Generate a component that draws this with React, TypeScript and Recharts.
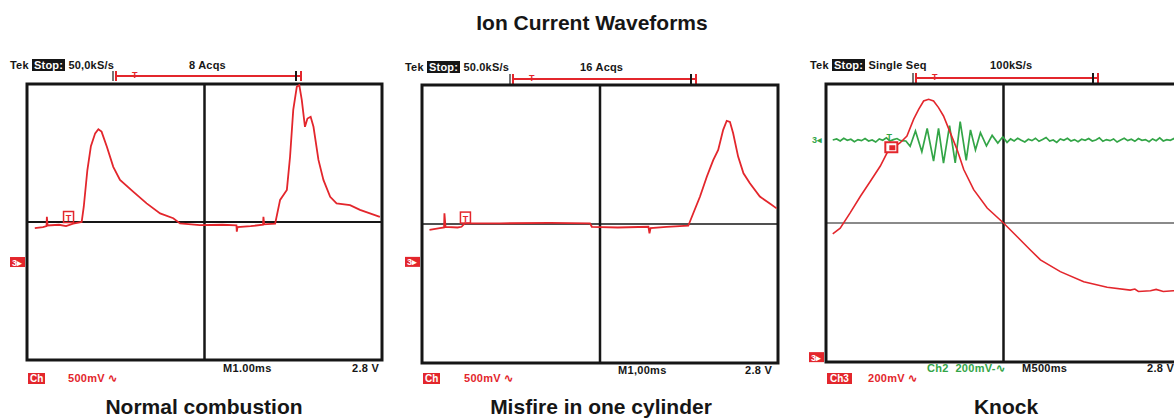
import {
  Line,
  LineChart,
  ReferenceArea,
  ReferenceDot,
  ReferenceLine,
  XAxis,
  YAxis,
} from "recharts";

// time in screen divisions (0-10), signal in vertical divisions (-4..4)
type Pt = [number, number];

const normalCombustion: Pt[] = [
  [0.22, -0.18], [0.45, -0.15], [0.55, -0.12], [0.56, 0.15], [0.58, -0.1],
  [0.9, -0.08], [1.1, -0.12], [1.3, -0.05], [1.54, 0.0], [1.6, 0.45],
  [1.7, 1.5], [1.8, 2.2], [1.92, 2.57], [2.01, 2.69], [2.1, 2.62], [2.25, 2.18],
  [2.43, 1.6], [2.62, 1.22], [2.99, 0.88], [3.37, 0.54], [3.75, 0.25],
  [4.12, 0.11], [4.31, -0.04], [4.87, -0.09], [5.5, -0.08], [5.9, -0.1],
  [5.91, -0.28], [5.93, -0.15], [6.3, -0.12], [6.65, -0.08], [6.66, 0.15],
  [6.68, -0.07], [6.99, -0.05], [7.13, 0.64], [7.32, 0.93], [7.41, 1.89],
  [7.5, 3.25], [7.6, 3.92], [7.67, 3.97], [7.74, 3.54], [7.83, 2.76],
  [7.9, 3.0], [7.99, 3.05], [8.07, 2.76], [8.21, 1.8], [8.35, 1.22],
  [8.54, 0.73], [8.72, 0.54], [9.1, 0.49], [9.38, 0.35], [9.66, 0.25],
  [9.94, 0.15],
];

const misfireOneCylinder: Pt[] = [
  [0.21, -0.17], [0.5, -0.12], [0.62, -0.1], [0.63, 0.31], [0.66, -0.08],
  [1.0, -0.1], [1.11, -0.08], [1.2, 0.02], [2.19, 0.02], [3.6, 0.03],
  [4.72, 0.02], [4.77, -0.08], [5.5, -0.1], [6.36, -0.08], [6.39, -0.27],
  [6.42, -0.12], [6.87, -0.08], [7.48, -0.05], [7.62, 0.31], [7.81, 0.79],
  [8.0, 1.36], [8.18, 1.84], [8.32, 2.13], [8.46, 2.71], [8.56, 2.97],
  [8.65, 2.94], [8.74, 2.61], [8.88, 1.94], [9.03, 1.46], [9.21, 1.17],
  [9.49, 0.79], [9.78, 0.58], [9.96, 0.45],
];

const knockIonCurrent: Pt[] = [
  [0.19, -0.31], [0.4, -0.15], [0.68, 0.29], [0.97, 0.77], [1.25, 1.2],
  [1.53, 1.64], [1.72, 2.02], [1.9, 2.17], [2.09, 2.31], [2.28, 2.5],
  [2.47, 2.99], [2.61, 3.27], [2.75, 3.51], [2.89, 3.56], [3.03, 3.51],
  [3.17, 3.32], [3.31, 3.08], [3.5, 2.6], [3.69, 2.12], [3.88, 1.54],
  [4.16, 0.96], [4.54, 0.43], [5.0, 0.0], [5.38, -0.39], [5.75, -0.77],
  [6.04, -1.06], [6.6, -1.4], [7.26, -1.69], [7.92, -1.85], [8.57, -1.93],
  [8.7, -1.9], [8.8, -1.97], [9.14, -1.95], [9.3, -1.91], [9.5, -1.97],
  [9.78, -1.95], [10.0, -1.94],
];

const knockSensor: Pt[] = [
  [0.19, 2.39], [0.3, 2.42], [0.4, 2.36], [0.5, 2.44], [0.6, 2.38],
  [0.7, 2.41], [0.8, 2.34], [0.9, 2.4], [1.0, 2.37], [1.1, 2.43],
  [1.2, 2.36], [1.3, 2.39], [1.4, 2.33], [1.5, 2.42], [1.6, 2.38],
  [1.7, 2.45], [1.8, 2.36], [1.9, 2.4], [2.0, 2.43], [2.1, 2.37],
  [2.25, 2.36], [2.37, 2.21], [2.52, 2.65], [2.7, 2.05], [2.85, 2.72],
  [3.03, 1.78], [3.17, 2.72], [3.31, 1.72], [3.48, 2.8], [3.64, 1.73],
  [3.78, 2.92], [3.95, 1.8], [4.07, 2.68], [4.21, 2.1], [4.35, 2.6],
  [4.52, 2.22], [4.68, 2.52], [4.84, 2.3], [4.98, 2.48], [5.1, 2.32],
  [5.2, 2.42], [5.3, 2.36], [5.4, 2.44], [5.5, 2.38], [5.6, 2.33],
  [5.7, 2.41], [5.8, 2.37], [5.9, 2.44], [6.0, 2.35], [6.1, 2.4],
  [6.2, 2.46], [6.3, 2.36], [6.4, 2.39], [6.5, 2.32], [6.6, 2.42],
  [6.7, 2.38], [6.8, 2.44], [6.9, 2.36], [7.0, 2.4], [7.1, 2.34],
  [7.2, 2.41], [7.3, 2.38], [7.4, 2.43], [7.5, 2.36], [7.6, 2.39],
  [7.7, 2.45], [7.8, 2.35], [7.9, 2.4], [8.0, 2.37], [8.1, 2.42],
  [8.2, 2.33], [8.3, 2.39], [8.4, 2.44], [8.5, 2.37], [8.6, 2.41],
  [8.7, 2.35], [8.8, 2.43], [8.9, 2.38], [9.0, 2.4], [9.1, 2.34],
  [9.2, 2.42], [9.3, 2.37], [9.4, 2.45], [9.5, 2.36], [9.6, 2.4],
  [9.7, 2.38], [9.8, 2.43], [9.9, 2.36], [10.0, 2.4],
];

const panelTitles = ["Normal combustion", "Misfire in one cylinder", "Knock"];
const sampleRates = ["50,0kS/s", "50.0kS/s", "Single Seq"];
const acquisitions = ["8 Acqs", "16 Acqs", "100kS/s"];
const timebases = ["M1.00ms", "M1,00ms", "M500ms"];

const FONT = "'Liberation Sans', Arial, Helvetica, sans-serif";
const RED = "#e3262c";
const GREEN = "#33a547";
const INK = "#161616";
const M = { top: 10, right: 10, bottom: 10, left: 24 };

const rows = (pts: Pt[]) => pts.map(([t, v]) => ({ t, v }));

function TriggerBox(props: any) {
  const { cx, cy } = props;
  return (
    <g>
      <rect x={cx - 5} y={cy - 6} width={10} height={11} fill="none" stroke={RED} strokeWidth={1.5} />
      <text x={cx} y={cy + 3.5} fill={RED} fontSize={9} fontWeight={700} fontFamily={FONT} textAnchor="middle">
        T
      </text>
    </g>
  );
}

function KnockTrigger(props: any) {
  const { cx, cy } = props;
  return (
    <g>
      <rect x={cx - 6} y={cy - 5} width={12} height={10} fill="#fff" stroke={RED} strokeWidth={2} />
      <rect x={cx - 2} y={cy - 2} width={6} height={5} fill={RED} />
      <text x={cx - 2} y={cy - 7} fill={GREEN} fontSize={9} fontWeight={700} fontFamily={FONT} textAnchor="middle">
        T
      </text>
    </g>
  );
}

function GroundTag(props: any) {
  const { cx, cy } = props;
  return (
    <g>
      <rect x={cx - 17} y={cy - 5} width={15} height={10} fill={RED} />
      <text x={cx - 10} y={cy + 3.5} fill="#fff" fontSize={9} fontWeight={700} fontFamily={FONT} textAnchor="middle">
        3▸
      </text>
    </g>
  );
}

function GreenTag(props: any) {
  const { cx, cy } = props;
  return (
    <text x={cx - 9} y={cy + 3.5} fill={GREEN} fontSize={9} fontWeight={700} fontFamily={FONT} textAnchor="middle">
      3◂
    </text>
  );
}

type Box = { x: number; y: number; w: number; h: number };

function Scope({
  box,
  zeroWidth,
  children,
}: {
  box: Box;
  zeroWidth: number;
  children: React.ReactNode;
}) {
  return (
    <div style={{ position: "absolute", left: box.x - M.left, top: box.y - M.top }}>
      <LineChart width={box.w + M.left + M.right} height={box.h + M.top + M.bottom} margin={M}>
        <XAxis type="number" dataKey="t" domain={[0, 10]} hide allowDataOverflow />
        <YAxis type="number" dataKey="v" domain={[-4, 4]} hide allowDataOverflow />
        <ReferenceArea x1={0} x2={10} y1={-4} y2={4} fill="#fff" fillOpacity={0} stroke={INK} strokeWidth={3} />
        <ReferenceLine x={5} stroke={INK} strokeWidth={2.5} />
        <ReferenceLine y={0} stroke={INK} strokeWidth={zeroWidth} strokeOpacity={1} />
        {children}
      </LineChart>
    </div>
  );
}

const txt = (x: number, y: number, s: React.CSSProperties = {}): React.CSSProperties => ({
  position: "absolute",
  left: x,
  top: y,
  fontFamily: FONT,
  fontWeight: 700,
  fontSize: 11,
  lineHeight: "12px",
  whiteSpace: "nowrap",
  color: INK,
  ...s,
});

function Header({ x, y, i, acqX, br }: { x: number; y: number; i: number; acqX: number; br: [number, number, number] }) {
  const [b1, b2, by] = br;
  return (
    <>
      <div style={txt(x, y, { letterSpacing: 0.2 })}>
        Tek{" "}
        <span style={{ background: INK, color: "#fff", padding: "0 2px" }}>Stop:</span>{" "}
        {sampleRates[i]}
      </div>
      <div style={txt(acqX, y, { letterSpacing: 0.2 })}>{acquisitions[i]}</div>
      <div style={{ position: "absolute", left: b1 - 3, top: by - 5, width: 1.5, height: 10, background: "#777" }} />
      <div style={{ position: "absolute", left: b1, top: by - 5, width: 2, height: 10, background: RED }} />
      <div style={{ position: "absolute", left: b1, top: by - 1, width: b2 - b1, height: 2, background: RED }} />
      <div style={{ position: "absolute", left: b2 - 5, top: by - 5, width: 1.5, height: 10, background: INK }} />
      <div style={{ position: "absolute", left: b2, top: by - 5, width: 2, height: 10, background: RED }} />
      <div style={txt(b1 + 17, by - 7, { color: RED, fontSize: 9 })}>T</div>
    </>
  );
}

export default function App() {
  const boxes: Box[] = [
    { x: 27, y: 84, w: 355, h: 276 },
    { x: 422, y: 85, w: 356, h: 278 },
    { x: 826, y: 84, w: 355, h: 278 },
  ];
  const centers = [204, 601, 1006];
  const foot = { letterSpacing: 0.3 };
  return (
    <div
      style={{
        position: "absolute",
        left: 0,
        top: 0,
        width: 1174,
        height: 419,
        overflow: "hidden",
        background: "#fff",
      }}
    >
      <div style={txt(0, 11, { width: 1184, textAlign: "center", fontSize: 21, lineHeight: "24px" })}>
        Ion Current Waveforms
      </div>

      <Header x={10} y={59} i={0} acqX={189} br={[115, 300, 76]} />
      <Header x={405} y={61} i={1} acqX={580} br={[512, 695, 79]} />
      <Header x={810} y={59} i={2} acqX={990} br={[915, 1097, 78]} />

      <Scope box={boxes[0]} zeroWidth={2}>
        <Line data={rows(normalCombustion)} dataKey="v" type="linear" stroke={RED} strokeWidth={1.8} dot={false} isAnimationActive={false} />
        <ReferenceDot x={1.17} y={0.13} r={5} shape={TriggerBox} />
        <ReferenceDot x={0} y={-1.16} r={5} shape={GroundTag} />
      </Scope>

      <Scope box={boxes[1]} zeroWidth={1.3}>
        <Line data={rows(misfireOneCylinder)} dataKey="v" type="linear" stroke={RED} strokeWidth={1.8} dot={false} isAnimationActive={false} />
        <ReferenceDot x={1.22} y={0.17} r={5} shape={TriggerBox} />
        <ReferenceDot x={0} y={-1.09} r={5} shape={GroundTag} />
      </Scope>

      <Scope box={boxes[2]} zeroWidth={1.2}>
        <Line data={rows(knockSensor)} dataKey="v" type="linear" stroke={GREEN} strokeWidth={1.7} dot={false} isAnimationActive={false} />
        <Line data={rows(knockIonCurrent)} dataKey="v" type="linear" stroke={RED} strokeWidth={1.6} dot={false} isAnimationActive={false} />
        <ReferenceDot x={1.84} y={2.18} r={5} shape={KnockTrigger} />
        <ReferenceDot x={0} y={2.39} r={5} shape={GreenTag} />
        <ReferenceDot x={0} y={-3.86} r={5} shape={GroundTag} />
      </Scope>

      {/* footers */}
      <div style={txt(28, 373, { background: RED, color: "#fff", fontSize: 10, lineHeight: "11px", padding: "0 2px" })}>Ch</div>
      <div style={txt(68, 372, { color: RED, ...foot })}>500mV ∿</div>
      <div style={txt(223, 362, foot)}>{timebases[0]}</div>
      <div style={txt(352, 362, foot)}>2.8 V</div>

      <div style={txt(423, 373, { background: RED, color: "#fff", fontSize: 10, lineHeight: "11px", padding: "0 2px" })}>Ch</div>
      <div style={txt(464, 372, { color: RED, ...foot })}>500mV ∿</div>
      <div style={txt(618, 364, foot)}>{timebases[1]}</div>
      <div style={txt(745, 364, foot)}>2.8 V</div>

      <div style={txt(827, 373, { background: RED, color: "#fff", fontSize: 10, lineHeight: "11px", padding: "0 3px" })}>Ch3</div>
      <div style={txt(868, 372, { color: RED, ...foot })}>200mV ∿</div>
      <div style={txt(927, 362, { color: GREEN, ...foot })}>Ch2&nbsp;&nbsp;200mV-∿</div>
      <div style={txt(1022, 362, foot)}>{timebases[2]}</div>
      <div style={txt(1147, 362, foot)}>2.8 V</div>

      {panelTitles.map((t, i) => (
        <div
          key={t}
          style={txt(centers[i] - 150, 395, { width: 300, textAlign: "center", fontSize: 21, lineHeight: "24px" })}
        >
          {t}
        </div>
      ))}
    </div>
  );
}
